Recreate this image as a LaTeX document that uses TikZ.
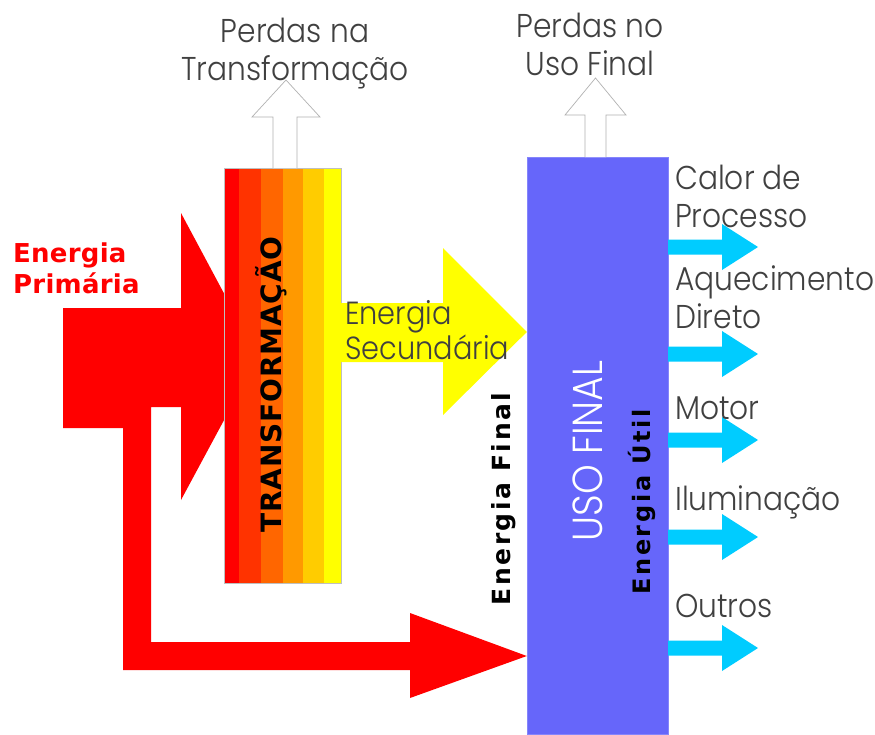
\documentclass[tikz,border=0pt]{standalone}
\usepackage{fontspec}
\newfontfamily\boldfont{DejaVu Sans}
\IfFontExistsTF{Poppins Light}
  {\newfontfamily\thinfont{Poppins Light}[FakeStretch=0.9]}
  {\newfontfamily\thinfont{Poppins}[FakeStretch=0.9]}

\definecolor{primred}{RGB}{255,0,0}
\definecolor{usoblue}{RGB}{102,102,250}
\definecolor{uticyan}{RGB}{0,204,255}
\definecolor{secyellow}{RGB}{255,255,0}
\definecolor{trA}{RGB}{255,0,0}
\definecolor{trB}{RGB}{255,51,0}
\definecolor{trC}{RGB}{255,102,0}
\definecolor{trD}{RGB}{255,153,0}
\definecolor{trE}{RGB}{255,204,0}
\definecolor{trF}{RGB}{255,255,0}

\tikzset{
  lossarrow/.style={draw=gray!60, fill=white, line width=0.7pt},
  greylabel/.style={font=\thinfont\fontsize{33}{38}\selectfont, text=black!75,
    inner sep=0pt, align=left},
  boldlabel/.style={inner sep=0pt, rotate=90, anchor=base}
}

\begin{document}
\begin{tikzpicture}[x=1pt,y=-1pt]
  \useasboundingbox (0,0) rectangle (875,734);
  \fill[white] (0,0) rectangle (875,734);

  \node (usofinal) at (597.5,445.5) [fill=usoblue, draw=usoblue!80!white,
    minimum width=141, minimum height=577, inner sep=0] {};

  % primary energy, with the branch going straight to final use
  \fill[primred] (63,308) -- (181,308) -- (181,213) -- (258,357) -- (181,500)
    -- (181,407) -- (151,407) -- (151,642) -- (410,642) -- (410,613)
    -- (usofinal.west |- 0,656) -- (410,698) -- (410,670) -- (123,670)
    -- (123,428) -- (63,428) -- cycle;

  % transformation block
  \foreach \xa/\xb/\c in {224/239/trA, 239/261/trB, 261/283/trC,
                          283/303/trD, 303/324/trE, 324/341/trF}
    \fill[\c] (\xa,168) rectangle (\xb,583);
  \node (transf) at (282.5,375.5) [draw=gray!50, minimum width=117,
    minimum height=415, inner sep=0] {};

  % secondary energy
  \fill[secyellow] (transf.east |- 0,303) -- (443,303) -- (443,248)
    -- (usofinal.west |- 0,332) -- (443,415) -- (443,362)
    -- (transf.east |- 0,362) -- cycle;

  % losses
  \draw[lossarrow] (273,168) -- (273,117) -- (252,117) -- (286,80)
    -- (320,117) -- (297,117) -- (297,168);
  \draw[lossarrow] (585,157) -- (585,115) -- (565,115) -- (595.5,78)
    -- (626,115) -- (606,115) -- (606,157);

  % useful energy
  \foreach \y in {247,354,440,537,648}
    \fill[uticyan] (usofinal.east |- 0,{\y-7.5}) -- (722,{\y-7.5})
      -- (722,{\y-23}) -- (758,\y) -- (722,{\y+23}) -- (722,{\y+7.5})
      -- (usofinal.east |- 0,{\y+7.5}) -- cycle;

  % texts
  \node (primaria) [anchor=north west, align=left, inner sep=0, text=primred,
    font=\boldfont\bfseries\fontsize{26}{31}\selectfont\addfontfeatures{LetterSpace=1}]
    at (13,243) {Energia\\Primária};
  \node (transftext) [boldlabel,
    font=\boldfont\bfseries\fontsize{28}{28}\selectfont\addfontfeatures{LetterSpace=3}]
    at (281,384.5) {TRANSFORMAÇÃO};
  \node (secundaria) [greylabel, anchor=north west,
    font=\thinfont\fontsize{32}{35}\selectfont] at (345,300) {Energia\\Secundária};
  \node (perdastransf) [greylabel, align=center, anchor=north] at (295,18)
    {Perdas na\\Transformação};
  \node (perdasuso) [greylabel, align=center, anchor=north] at (590,13)
    {Perdas no\\Uso Final};
  \node (energiafinal) [boldlabel,
    font=\boldfont\bfseries\fontsize{25}{25}\selectfont\addfontfeatures{LetterSpace=10}]
    at (510,499) {Energia Final};
  \node (usotext) [boldlabel, text=white,
    font=\thinfont\fontsize{42}{42}\selectfont] at (602,451) {USO FINAL};
  \node (energiautil) [boldlabel,
    font=\boldfont\bfseries\fontsize{24}{24}\selectfont\addfontfeatures{LetterSpace=11}]
    at (650,502) {Energia Útil};

  \node (calor)  [greylabel, anchor=north west] at (675,165) {Calor de\\Processo};
  \node (aquec)  [greylabel, anchor=north west] at (675,265) {Aquecimento\\Direto};
  \node (motor)  [greylabel, anchor=north west] at (675,397) {Motor};
  \node (ilum)   [greylabel, anchor=north west] at (675,485) {Iluminação};
  \node (outros) [greylabel, anchor=north west] at (675,594) {Outros};
\end{tikzpicture}
\end{document}
